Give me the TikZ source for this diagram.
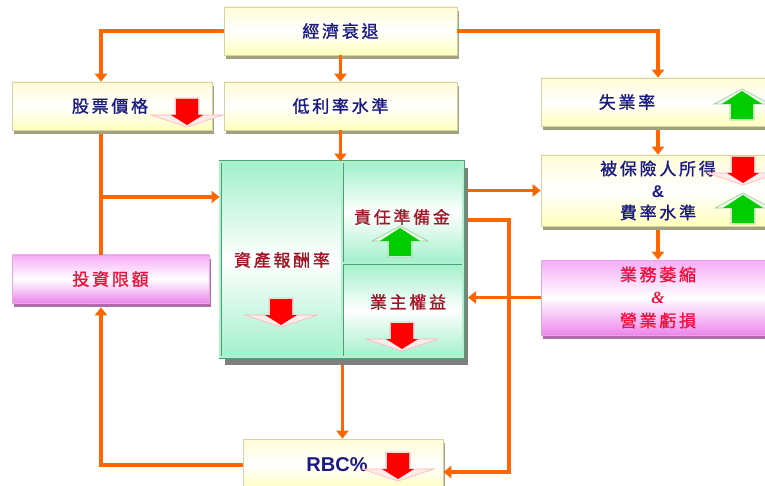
\documentclass[tikz,border=0pt]{standalone}
\usepackage{fontspec}
\usepackage{xcolor}
\usetikzlibrary{arrows.meta,shadows}
\setmainfont{Liberation Sans}
\newfontfamily\cjk[LetterSpace=16,FakeBold=1.2]{Noto Sans CJK TC}
\newfontfamily\ampserif{Liberation Serif}

\definecolor{flowc}{HTML}{FF6600}
\definecolor{ytop}{HTML}{FFFBD6}
\definecolor{ybot}{HTML}{FFFFBC}
\definecolor{yedge}{HTML}{D4D2A8}
\definecolor{yshade}{HTML}{A3A27E}
\definecolor{ptop}{HTML}{F6ACF6}
\definecolor{pbot}{HTML}{EC86EC}
\definecolor{pedge}{HTML}{E2A8E2}
\definecolor{pshade}{HTML}{AE6CAE}
\definecolor{gtop}{HTML}{A2F0CC}
\definecolor{gedge}{HTML}{48A474}
\definecolor{gdouble}{HTML}{B6EED0}
\definecolor{blockshade}{HTML}{7F7F7F}
\definecolor{navytext}{HTML}{1A1A80}
\definecolor{celltext}{HTML}{A01828}
\definecolor{pinktext}{HTML}{F0103C}

\tikzset{
    ybox/.style={draw=yedge, line width=0.6pt, top color=ytop, bottom color=ybot,
        middle color=white, inner sep=0pt, text=navytext,
        drop shadow={shadow xshift=1.5pt, shadow yshift=-4pt, fill=yshade, opacity=1},
        font=\cjk\fontsize{17}{22}\selectfont, align=center},
    pbox/.style={draw=pedge, line width=0.6pt, top color=ptop, bottom color=pbot,
        middle color=white, inner sep=0pt, text=pinktext,
        drop shadow={shadow xshift=1.5pt, shadow yshift=-4pt, fill=pshade, opacity=1},
        font=\cjk\fontsize{17}{23}\selectfont, align=center},
    gcell/.style={draw=gedge, line width=0.9pt, double=gdouble, double distance=1.2pt,
        top color=gtop, bottom color=gtop, middle color=white, inner sep=0pt},
    celllabel/.style={text=celltext, font=\cjk\fontsize{17}{22}\selectfont, inner sep=0pt},
    ylabel/.style={text=navytext, font=\cjk\fontsize{17}{22}\selectfont, inner sep=0pt},
    flow/.style={draw=flowc, line width=3.5pt, -{Triangle[width=12pt,length=8pt]}},
    flowline/.style={draw=flowc, line width=3.5pt},
    dnarrow/.pic={
        \fill[fill=red!8, draw=red!30, line width=0.6pt]
            (-12,0) -- (12,0) -- (12,17) -- (36,17) -- (0,29) -- (-36,17) -- (-12,17) -- cycle;
        \fill[red] (-11,1) -- (11,1) -- (11,17) -- (16,17) -- (0,27) -- (-16,17) -- (-11,17) -- cycle;
    },
    uparrow/.pic={
        \fill[fill=green!8, draw=green!45!black!40, line width=0.6pt]
            (0,0) -- (28,15) -- (12,15) -- (12,31) -- (-12,31) -- (-12,15) -- (-28,15) -- cycle;
        \fill[green!80!black] (0,2) -- (20,15) -- (11,15) -- (11,30) -- (-11,30) -- (-11,15) -- (-20,15) -- cycle;
    }
}

\begin{document}
\begin{tikzpicture}[x=1pt,y=-1pt]
    \useasboundingbox (0,0) rectangle (765,486);
    \clip (0,0) rectangle (765,486);

    % Top row
    \node[ybox, minimum width=233pt, minimum height=48pt] (econ) at (340.5,31) {經濟衰退};
    \node[ybox, minimum width=200pt, minimum height=48pt] (stock) at (112,106) {股票價格\hspace*{4pt}};
    \node[ybox, minimum width=233pt, minimum height=48pt] (rate) at (340.5,106) {低利率水準};
    \node[ybox, minimum width=234pt, minimum height=48pt] (unemp) at (658,102) {};
    \node[ylabel] (unempT) at (627,102) {失業率};

    % Right column
    \node[ybox, minimum width=234pt, minimum height=71pt] (income) at (658,190.5)
        {被保險人所得\\{\normalfont\bfseries\&}\\費率水準};
    \node[pbox, minimum width=234pt, minimum height=75pt] (shrink) at (658,297.5)
        {業務萎縮\\{\ampserif\bfseries\itshape\&}\\營業虧損};

    % Left column
    \node[pbox, minimum width=197pt, minimum height=48pt] (limit) at (110.5,279) {投資限額};

    % Centre block
    \fill[blockshade] (225,168) rectangle (468,365);
    \coordinate (bse) at (468,365);
    \node[gcell, minimum width=122pt, minimum height=195pt] (asset) at (281,259.5) {};
    \node[gcell, minimum width=121pt, minimum height=101pt] (reserve) at (402.5,212.5) {};
    \node[gcell, minimum width=121pt, minimum height=94pt] (equity) at (402.5,310) {};
    \node[celllabel] (assetT) at (282,260) {資產報酬率};
    \node[celllabel] (reserveT) at (402,217) {責任準備金};
    \node[celllabel] (equityT) at (408,302) {業主權益};

    % Bottom
    \node[ybox, minimum width=200pt, minimum height=52pt, font=\normalfont\bfseries\fontsize{20}{24}\selectfont]
        (rbc) at (343,465) {\hspace*{-12pt}RBC\%};

    % Up / down marks
    \pic at (187,98) {dnarrow};
    \pic at (742,89) {uparrow};
    \pic at (743,156) {dnarrow};
    \pic at (743,193) {uparrow};
    \pic at (281,298) {dnarrow};
    \pic at (400,226) {uparrow};
    \pic at (402,322) {dnarrow};
    \pic at (398,452) {dnarrow};

    % Connectors
    \coordinate (lcol) at (101,0);
    \coordinate (br) at (101,197);
    \coordinate (rcol) at (509,220);

    \draw[flow] (econ.west) -| (lcol |- stock.north);
    \draw[flow] (econ.east) -| (unemp.north);
    \draw[flow] (econ.south) -- (rate.north);
    \draw[flow] (rate.south) -- (rate.south |- asset.north);
    \draw[flowline, shorten <=4pt] (lcol |- stock.south) -- (lcol |- limit.north);
    \draw[flow] (br) -- (br -| asset.west);
    \draw[flow, shorten <=4pt] (unemp.south) -- (income.north);
    \draw[flow, shorten <=4pt] (income.south) -- (shrink.north);
    \draw[flow] (income.west -| bse) -- (income.west);
    \draw[flow] (rcol -| bse) -- (rcol) |- ([yshift=-7pt]rbc.east);
    \draw[flow] (shrink.west) -- (shrink.west -| bse);
    \draw[flow] (asset.south east |- bse) -- (asset.south east |- rbc.north);
    \draw[flow, shorten >=4pt] (rbc.west) -| (lcol |- limit.south);
\end{tikzpicture}
\end{document}
